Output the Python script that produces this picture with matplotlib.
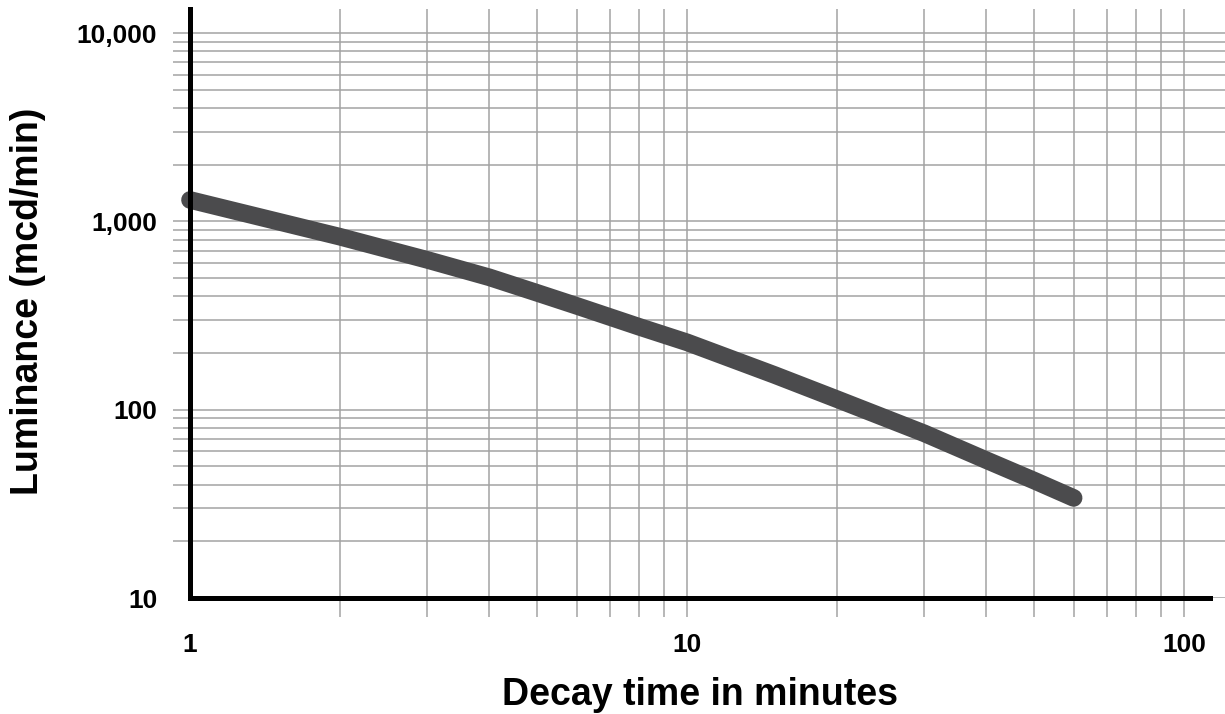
import numpy as np
import matplotlib
matplotlib.use("Agg")
import matplotlib.pyplot as plt
from matplotlib.ticker import FixedLocator, LogLocator, NullFormatter

# Luminance decay curve
tiempo_min = [1, 2, 3, 4, 5, 6, 8, 10, 15, 20, 30, 40, 50, 60]
luminancia = [1300, 830, 625, 505, 417, 356, 276, 228, 153, 114, 75, 54, 42, 34]

xticks = [1, 10, 100]
xlabels = ["1", "10", "100"]
yticks = [10, 100, 1000, 10000]
ylabels = ["10", "100", "1,000", "10,000"]

plt.rcParams['font.family'] = ['Liberation Sans', 'DejaVu Sans']
plt.rcParams['font.weight'] = 'bold'

gris = '#a3a3a3'
linea = '#4b4b4d'

fig = plt.figure(figsize=(12.25, 7.14), dpi=100)
ax = fig.add_axes([190 / 1225, 116 / 714, 1 - 190 / 1225, (598 - 9) / 714])

ax.set_xscale('log')
ax.set_yscale('log')
ax.set_xlim(1, 10 ** ((1225 - 190.7) / 496.6))
ax.set_ylim(10, 10 ** (1 + (598 - 9) / 188.3))

ax.plot(tiempo_min, luminancia, color=linea, lw=12.7, solid_capstyle='round',
        solid_joinstyle='round', zorder=3, clip_on=False)

# ticks: grey lines that continue the grid outside the axes
ax.xaxis.set_major_locator(FixedLocator(xticks))
ax.xaxis.set_major_formatter(plt.FixedFormatter(xlabels))
ax.xaxis.set_minor_locator(LogLocator(base=10, subs=np.arange(2, 10)))
ax.xaxis.set_minor_formatter(NullFormatter())
ax.yaxis.set_major_locator(FixedLocator(yticks))
ax.yaxis.set_major_formatter(plt.FixedFormatter(ylabels))
ax.yaxis.set_minor_locator(LogLocator(base=10, subs=np.arange(2, 10)))
ax.yaxis.set_minor_formatter(NullFormatter())

ax.tick_params(axis='x', which='both', direction='out', length=14, width=1.1, color=gris, pad=11, labelsize=19)
ax.tick_params(axis='y', which='both', direction='out', length=12.5, width=1.1, color=gris, pad=11, labelsize=19)
ax.xaxis.get_major_ticks()[0].tick1line.set_visible(False)
ax.yaxis.get_major_ticks()[0].tick1line.set_visible(False)

ax.grid(True, which='both', color=gris, lw=1.1)
ax.set_axisbelow(True)

for lado in ['top', 'right']:
    ax.spines[lado].set_visible(False)
for lado in ['left', 'bottom']:
    ax.spines[lado].set_linewidth(3.6)
    ax.spines[lado].set_color('black')
    ax.spines[lado].set_zorder(4)
ax.spines['bottom'].set_bounds(1, 10 ** ((1210 - 190.7) / 496.6))

# axis titles placed in figure pixels
fig.text(700 / 1225, 9 / 714, 'Decay time in minutes', fontsize=27, fontweight='bold',
         ha='center', va='baseline')
fig.text(28 / 1225, 1 - 301 / 714, 'Luminance (mcd/min)', fontsize=27, fontweight='bold',
         ha='center', va='center', rotation=90)

fig.savefig('out.png', dpi=100)
